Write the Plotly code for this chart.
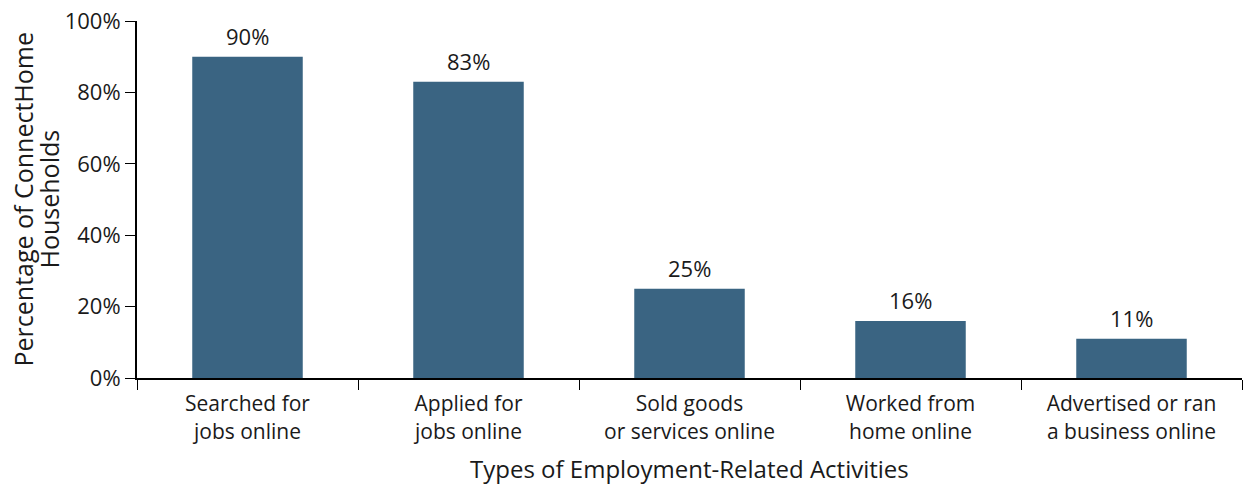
import plotly.graph_objects as go

categories = ["Searched for<br>jobs online", "Applied for<br>jobs online",
              "Sold goods<br>or services online", "Worked from<br>home online",
              "Advertised or ran<br>a business online"]
values = [90, 83, 25, 16, 11]
labels = ["90%", "83%", "25%", "16%", "11%"]
y_ticks = [0, 20, 40, 60, 80, 100]
y_tick_labels = ["0%", "20%", "40%", "60%", "80%", "100%"]
y_title_lines = ["Percentage of ConnectHome", "Households"]
x_title = "Types of Employment-Related Activities"

FONT = "Open Sans, Noto Sans, sans-serif"
TXT = "#1a1a1a"
fig = go.Figure(go.Bar(
    x=categories, y=values,
    marker=dict(color="#3a6482", line=dict(width=0)), width=0.5,
))
for c, v, t in zip(categories, values, labels):
    fig.add_annotation(x=c, y=v, text=t, showarrow=False, yanchor="bottom",
                       yshift=4, font=dict(size=22, color=TXT, family=FONT))
# y-axis title as two rotated lines
for i, line in enumerate(y_title_lines):
    fig.add_annotation(xref="paper", yref="paper", x=0, y=0.5, text=line,
                       textangle=-90, showarrow=False, xanchor="center",
                       yanchor="middle", xshift=-115 + 26 * i,
                       font=dict(size=25, color=TXT, family=FONT))
# x-axis title
fig.add_annotation(xref="paper", yref="paper", x=0.5, y=0, text=x_title,
                   showarrow=False, xanchor="center", yanchor="middle",
                   yshift=-90, borderpad=0, font=dict(size=24, color=TXT, family=FONT))
fig.update_layout(
    width=1243, height=485, paper_bgcolor="white", plot_bgcolor="white",
    margin=dict(l=137, r=1, t=21, b=107, autoexpand=False),
    font=dict(family=FONT, size=22, color=TXT),
    showlegend=False,
    xaxis=dict(showline=True, linecolor="black", linewidth=2, ticks="outside",
               tickson="boundaries", ticklen=10, tickcolor="black", tickwidth=1,
               automargin=False, ticklabelstandoff=6,
               tickfont=dict(size=21)),
    yaxis=dict(range=[0, 100], tickvals=y_ticks, ticktext=y_tick_labels,
               showline=True, linecolor="black", linewidth=2, ticks="outside",
               ticklen=10, tickcolor="black", tickwidth=1, showgrid=False,
               zeroline=False, tickfont=dict(size=22), automargin=False,
               ticklabeloverflow="allow"),
)
fig.write_html("out.html", config={"displayModeBar": False},
               post_script="document.body.style.margin='0';document.body.style.overflow='hidden';")
